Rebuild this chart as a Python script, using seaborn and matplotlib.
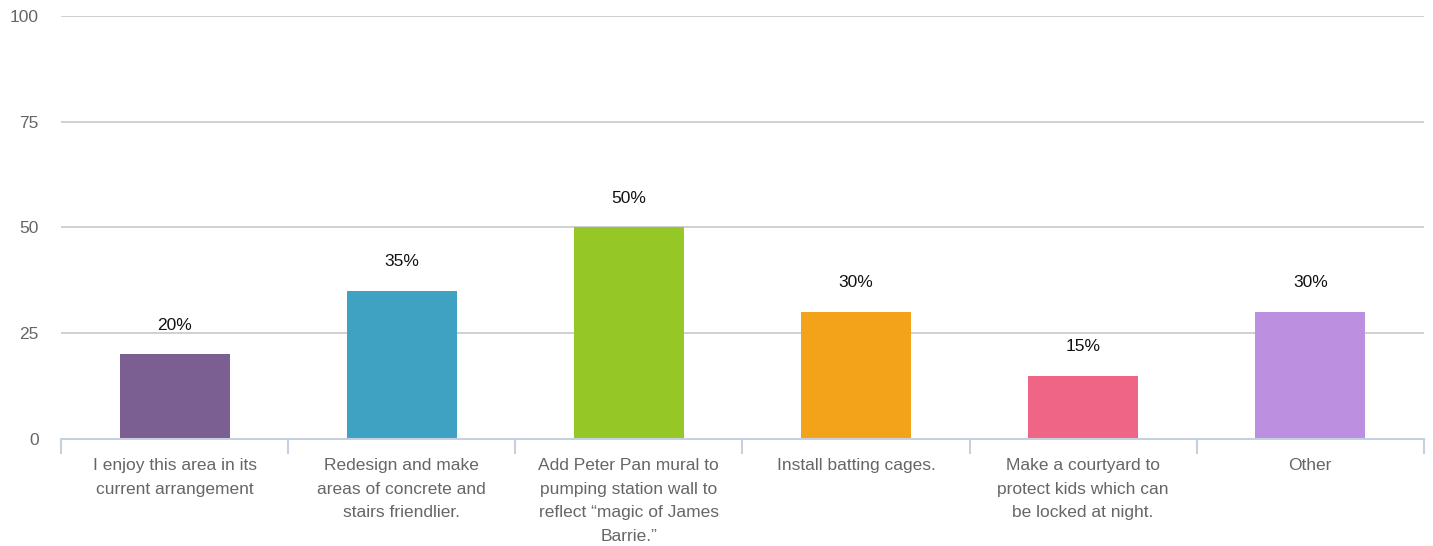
import seaborn as sns
import matplotlib.pyplot as plt
import pandas as pd
import numpy as np

categories = [
    'I enjoy this area in its\ncurrent arrangement',
    'Redesign and make\nareas of concrete and\nstairs friendlier.',
    'Add Peter Pan mural to\npumping station wall to\nreflect \u201cmagic of James\nBarrie.\u201d',
    'Install batting cages.',
    'Make a courtyard to\nprotect kids which can\nbe locked at night.',
    'Other',
]
values = [20, 35, 50, 30, 15, 30]
colors = ['#7B5E92', '#3FA2C2', '#95C826', '#F3A31A', '#EF6586', '#BC8FE0']
yticks = [0, 25, 50, 75, 100]

df = pd.DataFrame({'answer': categories, 'pct': values})

sns.set_style('white')
plt.rcParams['font.family'] = ['Liberation Sans', 'DejaVu Sans']

fig = plt.figure(figsize=(14.33, 5.46), dpi=100)
ax = fig.add_axes([0.0426, 0.196, 0.951, 0.775])

sns.barplot(data=df, x='answer', y='pct', hue='answer', palette=colors,
            legend=False, width=0.485, saturation=1, linewidth=0, ax=ax)

ax.set_ylim(0, 100)
ax.set_xlim(-0.5, len(categories) - 0.5)
ax.set_yticks(yticks)
ax.yaxis.grid(True, color='#c8c8c8', linewidth=1.2)
ax.set_axisbelow(True)
for s in ['top', 'right', 'left']:
    ax.spines[s].set_visible(False)
ax.spines['bottom'].set_color('#c5d1e0')
ax.spines['bottom'].set_linewidth(1.5)

fs = 12.5
ax.tick_params(axis='y', length=0, pad=16, labelsize=fs, labelcolor='#666666')
ax.tick_params(axis='x', which='major', length=0, pad=14, labelsize=fs, labelcolor='#666666')
ax.set_xticks(np.arange(-0.5, len(categories)), minor=True)
ax.tick_params(axis='x', which='minor', bottom=True, length=11, width=1.5, color='#c5d1e0')
for lbl in ax.get_xticklabels():
    lbl.set_linespacing(1.7)

ax.set_xlabel('')
ax.set_ylabel('')

for i, v in enumerate(values):
    ax.annotate(f'{v}%', (i, v), xytext=(0, 21), textcoords='offset points',
                ha='center', va='center', fontsize=fs, color='#111111')

fig.savefig('out.png', dpi=100)
